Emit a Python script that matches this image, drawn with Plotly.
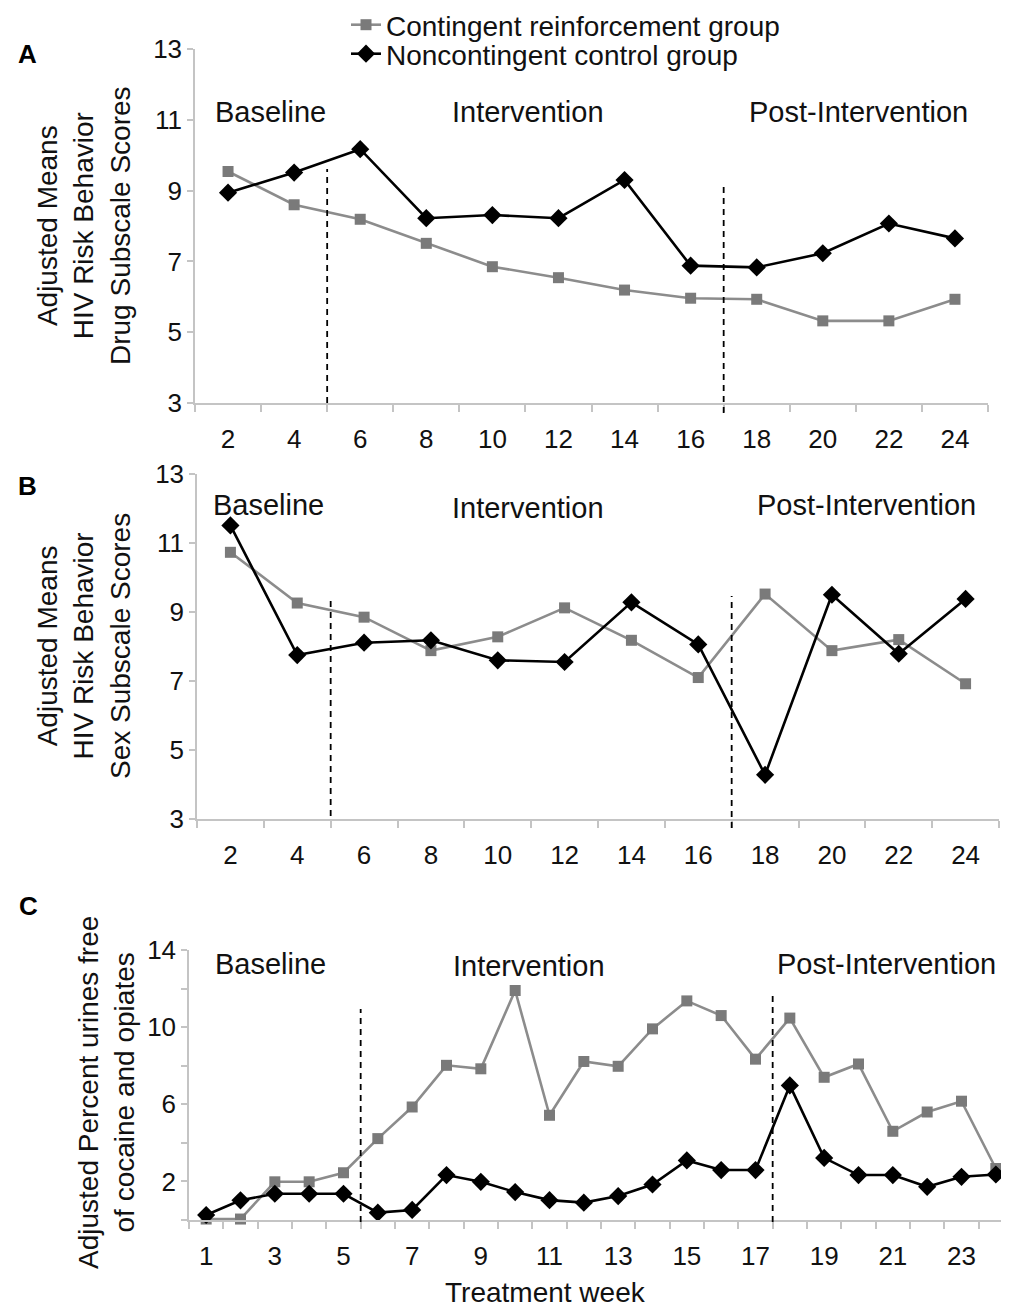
import plotly.graph_objects as go

W, H = 1009, 1310

# ---------------- data ----------------
weeks_ab = ['2', '4', '6', '8', '10', '12', '14', '16', '18', '20', '22', '24']
drug_contingent = [9.54, 8.60, 8.19, 7.51, 6.85, 6.54, 6.19, 5.96, 5.93, 5.32, 5.32, 5.93]
drug_control = [8.94, 9.51, 10.17, 8.22, 8.31, 8.22, 9.30, 6.88, 6.83, 7.23, 8.07, 7.65]
sex_contingent = [10.73, 9.26, 8.85, 7.88, 8.28, 9.12, 8.18, 7.10, 9.52, 7.88, 8.20, 6.92]
sex_control = [11.51, 7.75, 8.11, 8.18, 7.60, 7.55, 9.28, 8.06, 4.28, 9.50, 7.79, 9.38]

weeks_c = [str(w) for w in range(1, 25)]
week_c_labels = [str(w) if w % 2 == 1 else '' for w in range(1, 25)]
urine_contingent = [0.05, 0.05, 1.98, 1.98, 2.45, 4.22, 5.86, 8.02, 7.84, 11.9, 5.43, 8.22,
                    7.97, 9.91, 11.36, 10.6, 8.34, 10.47, 7.4, 8.09, 4.6, 5.6, 6.16, 2.67]
urine_control = [0.26, 1.02, 1.36, 1.36, 1.36, 0.38, 0.52, 2.33, 1.98, 1.45, 1.03, 0.9,
                 1.24, 1.84, 3.09, 2.59, 2.59, 6.98, 3.22, 2.33, 2.33, 1.72, 2.24, 2.36]

series_names = ['Contingent reinforcement group', 'Noncontingent control group']
phase_labels = ['Baseline', 'Intervention', 'Post-Intervention']

FONT = 'Liberation Sans, Arial, Helvetica, sans-serif'
GRAY = '#7a7a7a'
AXIS = '#c4c4c4'


def px(x):
    return x / W


def py(y):
    return 1 - y / H


fig = go.Figure()

# panel pixel boxes: (x0, x1, ytop, ybottom)
boxes = {
    '': (187, 980, 41, 395),
    '2': (189, 991, 466, 811),
    '3': (181, 1005, 942, 1212),
}

panels = [
    ('', weeks_ab, drug_contingent, drug_control, True),
    ('2', weeks_ab, sex_contingent, sex_control, False),
    ('3', weeks_c, urine_contingent, urine_control, False),
]

for sfx, xs, gvals, bvals, show in panels:
    fig.add_trace(go.Scatter(
        x=xs, y=gvals, mode='lines+markers', name=series_names[0],
        line=dict(color='#8c8c8c', width=2.6),
        marker=dict(symbol='square', size=11, color=GRAY),
        xaxis='x' + sfx, yaxis='y' + sfx, cliponaxis=False,
        showlegend=show, legend='legend'))
    fig.add_trace(go.Scatter(
        x=xs, y=bvals, mode='lines+markers', name=series_names[1],
        line=dict(color='#000000', width=2.6),
        marker=dict(symbol='diamond', size=14, color='#000000'),
        xaxis='x' + sfx, yaxis='y' + sfx, cliponaxis=False,
        showlegend=show, legend='legend2'))

tickfont = dict(family=FONT, size=26, color='#111111')
layout_axes = {}
for sfx, (x0, x1, yt, yb) in boxes.items():
    n = 24 if sfx == '3' else 12
    xa = dict(domain=[px(x0), px(x1)], type='category', range=[-0.5, n - 0.5],
              showline=True, linecolor=AXIS, linewidth=1.5, ticks='outside',
              tickson='boundaries', ticklen=7, tickcolor=AXIS, tickwidth=1.5,
              showgrid=False, zeroline=False, tickfont=tickfont, tickangle=0,
              ticklabelstandoff=12, anchor='y' + sfx)
    if sfx == '3':
        xa.update(tickmode='array', tickvals=weeks_c, ticktext=week_c_labels)
        ya = dict(range=[0, 14], tickmode='array', tickvals=[0, 2, 4, 6, 8, 10, 12, 14],
                  ticktext=['', '2', '', '6', '', '10', '', '14'])
    else:
        ya = dict(range=[3, 13], tickmode='array', tickvals=[3, 5, 7, 9, 11, 13])
    ya.update(domain=[py(yb), py(yt)], showline=True, linecolor=AXIS, linewidth=1.5,
              ticks='outside', ticklen=6, tickcolor=AXIS, tickwidth=1.5,
              showgrid=False, zeroline=False, tickfont=tickfont, anchor='x' + sfx)
    layout_axes['xaxis' + sfx] = xa
    layout_axes['yaxis' + sfx] = ya

fig.update_layout(**layout_axes)

# dashed phase separators (category boundaries), y extents in paper
dash_specs = [
    ('x', 1.5, 161, 395), ('x', 7.5, 174, 405),
    ('x2', 1.5, 593, 808), ('x2', 7.5, 588, 820),
    ('x3', 4.5, 1001, 1214), ('x3', 16.5, 985, 1214),
]
for xr, xv, y0, y1 in dash_specs:
    fig.add_shape(type='line', xref=xr, yref='paper', x0=xv, x1=xv,
                  y0=py(y1), y1=py(y0),
                  line=dict(color='#000000', width=1.8, dash='6px,5px'))

annots = []
phase_pos = [
    [(262, 104), (520, 104), (850, 104)],
    [(260, 497), (520, 500), (858, 497)],
    [(262, 956), (521, 958), (878, 956)],
]
for row in phase_pos:
    for lab, (x, y) in zip(phase_labels, row):
        annots.append(dict(text=lab, x=px(x), y=py(y), xref='paper', yref='paper',
                           showarrow=False, xanchor='center', yanchor='middle',
                           font=dict(family=FONT, size=29, color='#111111')))

# y-axis titles
ytitles = [
    ('Adjusted Means<br>HIV Risk Behavior<br>Drug Subscale Scores', 76, 218),
    ('Adjusted Means<br>HIV Risk Behavior<br>Sex Subscale Scores', 76, 638),
    ('Adjusted Percent urines free<br>of cocaine and opiates', 98, 1085),
]
for t, x, y in ytitles:
    annots.append(dict(text=t, x=px(x), y=py(y), xref='paper', yref='paper',
                       showarrow=False, textangle=-90, xanchor='center', yanchor='middle',
                       font=dict(family=FONT, size=28, color='#111111')))

# x-axis title
annots.append(dict(text='Treatment week', x=px(537), y=py(1284), xref='paper', yref='paper',
                   showarrow=False, xanchor='center', yanchor='middle',
                   font=dict(family=FONT, size=28, color='#111111')))

# panel letters
for lab, x, y in [('A', 19, 46), ('B', 19, 478), ('C', 20, 898)]:
    annots.append(dict(text='<b>' + lab + '</b>', x=px(x), y=py(y), xref='paper', yref='paper',
                       showarrow=False, xanchor='center', yanchor='middle',
                       font=dict(family=FONT, size=26, color='#000000')))

legfont = dict(family=FONT, size=28, color='#111111')
fig.update_layout(
    annotations=annots,
    width=W, height=H,
    margin=dict(l=0, r=0, t=0, b=0, autoexpand=False),
    paper_bgcolor='white', plot_bgcolor='white',
    font=dict(family=FONT, color='#111111'),
    legend=dict(x=px(338), y=py(17), xanchor='left', yanchor='middle',
                font=legfont, bgcolor='rgba(0,0,0,0)', borderwidth=0),
    legend2=dict(x=px(338), y=py(46), xanchor='left', yanchor='middle',
                 font=legfont, bgcolor='rgba(0,0,0,0)', borderwidth=0),
)

fig.write_html('out.html')
